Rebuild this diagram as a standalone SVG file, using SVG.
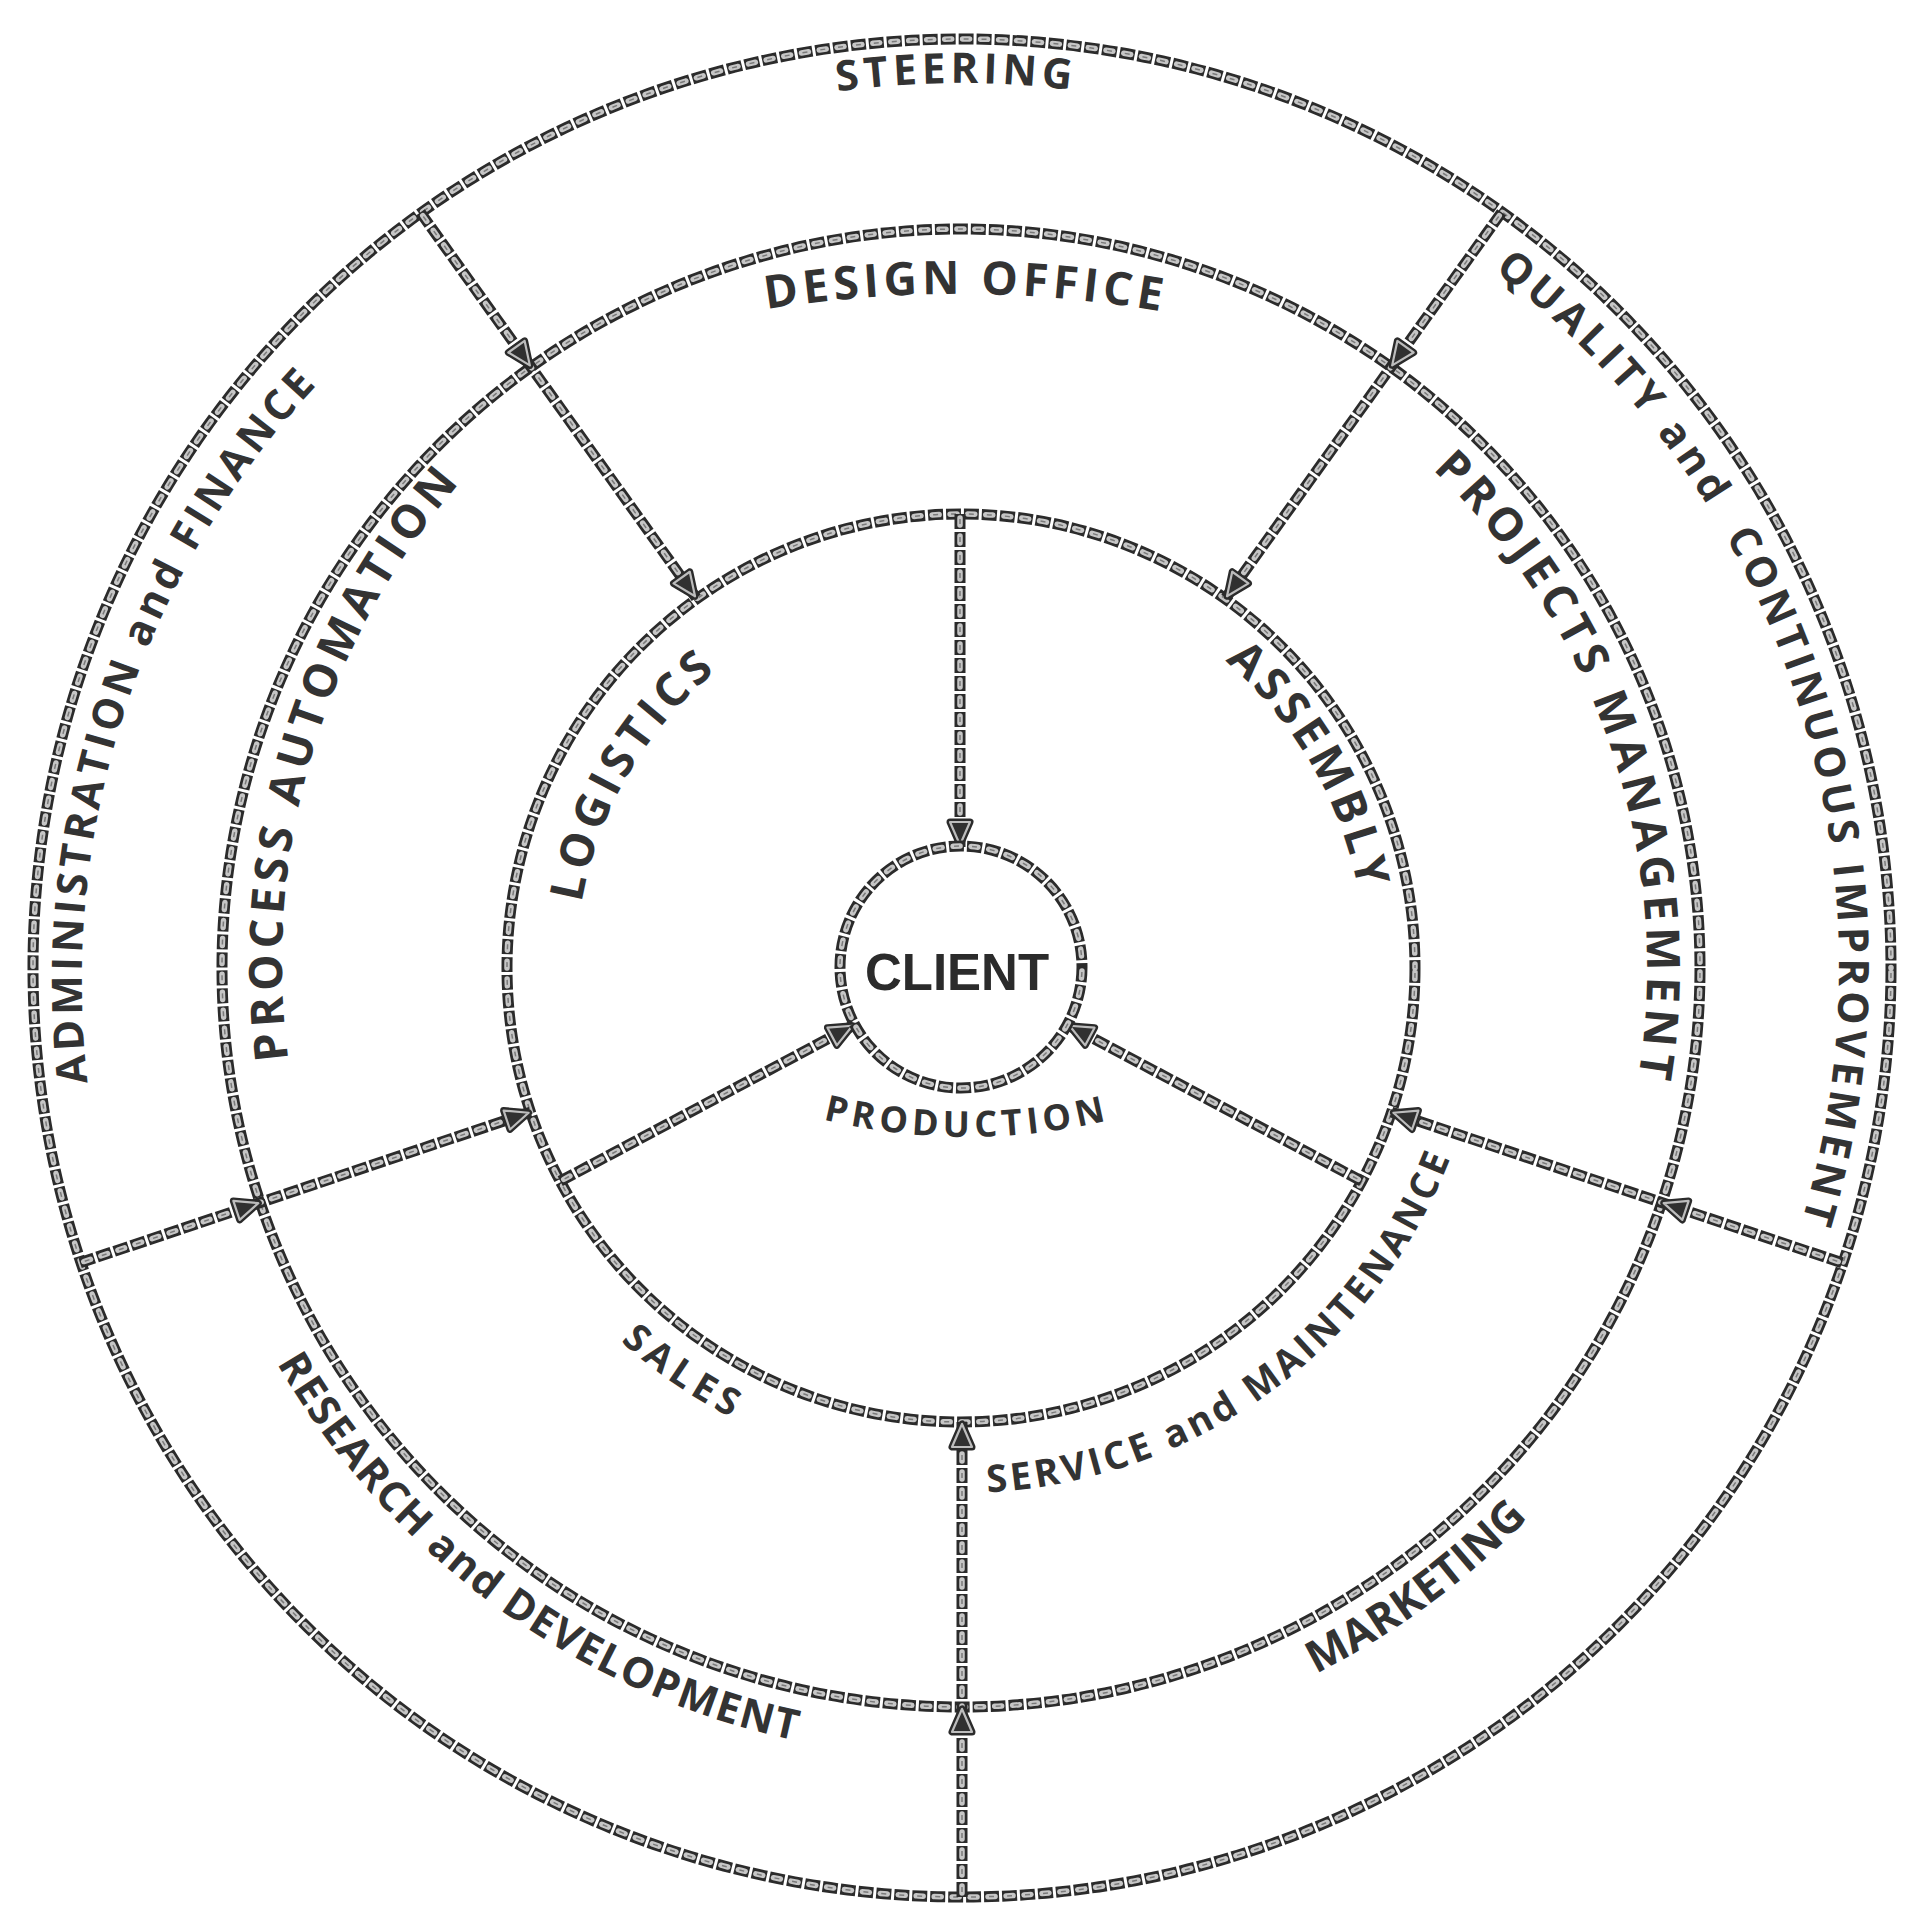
<svg xmlns="http://www.w3.org/2000/svg" width="1914" height="1920" viewBox="0 0 1914 1920">
<style>
.ch1{fill:none;stroke:#2b2b2b;stroke-width:11;stroke-dasharray:15 3}
.ch2{fill:none;stroke:#c6c6c6;stroke-width:5.5;stroke-dasharray:7 11;stroke-dashoffset:-4;stroke-linecap:round}
.ch3{fill:none;stroke:#7a7a7a;stroke-width:1.5;stroke-dasharray:5 13;stroke-dashoffset:-5}
.arr{fill:none;stroke:none;marker-end:url(#ah)}
.lbl{font-family:"Open Sans","Liberation Sans",sans-serif;font-weight:700;fill:#333}
.big{font-size:46px;letter-spacing:4px}
.out{font-size:42px;letter-spacing:3.5px}
.sm{font-size:38px;letter-spacing:2px}
</style>
<defs>
<marker id="ah" markerUnits="userSpaceOnUse" viewBox="-32 -16 36 32" refX="0" refY="0" markerWidth="36" markerHeight="32" orient="auto" overflow="visible">
<path d="M-2,0 L-25,-10 L-25,10 Z" fill="#2b2b2b" stroke="#2b2b2b" stroke-width="7" stroke-linejoin="round"/>
<path d="M-2,0 L-25,-10 L-25,10 Z" fill="#303030" stroke="#bdbdbd" stroke-width="2.2" stroke-linejoin="round"/>
</marker>
<circle id="cOuter" cx="962" cy="968" r="929"/>
<circle id="cMid" cx="961" cy="968" r="739"/>
<circle id="cInner" cx="961" cy="968" r="454"/>
<circle id="cClient" cx="961" cy="967" r="121"/>
<path id="l1" d="M420.4,212.4 L696.2,597.9"/>
<path id="l2" d="M1501.6,212.4 L1225.8,597.9"/>
<path id="l3" d="M960,514 L960,847"/>
<path id="l4" d="M962,1897 L962,1422"/>
<path id="l5" d="M80,1262.8 L530.5,1112.1"/>
<path id="l6" d="M1842,1262.8 L1391.5,1112.1"/>
<path id="l7" d="M560.2,1181.2 L854.2,1024.8"/>
<path id="l8" d="M1361.8,1181.2 L1067.8,1024.8"/>
<path id="cw885" d="M89.44,814.32 A885,885 0 0 1 1832.56,814.32"/>
<path id="cwAdmin" d="M95.14,829.66 A875,875 0 0 1 1818.56,829.66"/>
<path id="cw878" d="M96.34,815.54 A878,878 0 0 1 1825.66,815.54"/>
<path id="ccw790" d="M183,1105.18 A790,790 0 0 0 1739,1105.18"/>
<path id="arcDesign" d="M189.7,574.7 A1200,1200 0 0 1 1732.3,574.7"/>
<path id="cw686" d="M285.42,848.88 A686,686 0 0 1 1636.58,848.88"/>
<path id="arcProcess" d="M696,1623.2 A735,735 0 0 1 1092.6,230.9"/>
<path id="ccw525" d="M443.98,1059.17 A525,525 0 0 0 1478.02,1059.17"/>
<path id="ccw505" d="M463.67,1055.69 A505,505 0 0 0 1458.33,1055.69"/>
<path id="cw385" d="M581.85,901.14 A385,385 0 0 1 1340.15,901.14"/>
<path id="cw405" d="M562.15,897.67 A405,405 0 0 1 1359.85,897.67"/>
<path id="arcProd" d="M447.4,837 A600,600 0 0 0 1486.6,837"/>
</defs>
<rect width="1914" height="1920" fill="#ffffff"/>

<g id="ring-outer"><use href="#cOuter" class="ch1"/><use href="#cOuter" class="ch2"/><use href="#cOuter" class="ch3"/></g>
<g id="ring-middle"><use href="#cMid" class="ch1"/><use href="#cMid" class="ch2"/><use href="#cMid" class="ch3"/></g>
<g id="ring-inner"><use href="#cInner" class="ch1"/><use href="#cInner" class="ch2"/><use href="#cInner" class="ch3"/></g>

<g id="connectors">
<use href="#l1" class="ch1"/><use href="#l1" class="ch2"/><use href="#l1" class="ch3"/>
<use href="#l2" class="ch1"/><use href="#l2" class="ch2"/><use href="#l2" class="ch3"/>
<use href="#l3" class="ch1"/><use href="#l3" class="ch2"/><use href="#l3" class="ch3"/>
<use href="#l4" class="ch1"/><use href="#l4" class="ch2"/><use href="#l4" class="ch3"/>
<use href="#l5" class="ch1"/><use href="#l5" class="ch2"/><use href="#l5" class="ch3"/>
<use href="#l6" class="ch1"/><use href="#l6" class="ch2"/><use href="#l6" class="ch3"/>
<use href="#l7" class="ch1"/><use href="#l7" class="ch2"/><use href="#l7" class="ch3"/>
<use href="#l8" class="ch1"/><use href="#l8" class="ch2"/><use href="#l8" class="ch3"/>
<path class="arr" d="M420.4,212.4 L531,367"/>
<path class="arr" d="M531,367 L696.2,597.9"/>
<path class="arr" d="M1501.6,212.4 L1391,367"/>
<path class="arr" d="M1391,367 L1225.8,597.9"/>
<path class="arr" d="M960,514 L960,847"/>
<path class="arr" d="M962,1897 L962,1707"/>
<path class="arr" d="M962,1707 L962,1422"/>
<path class="arr" d="M80,1262.8 L260.2,1202.5"/>
<path class="arr" d="M260.2,1202.5 L530.5,1112.1"/>
<path class="arr" d="M1842,1262.8 L1661.8,1202.5"/>
<path class="arr" d="M1661.8,1202.5 L1391.5,1112.1"/>
<path class="arr" d="M560.2,1181.2 L854.2,1024.8"/>
<path class="arr" d="M1361.8,1181.2 L1067.8,1024.8"/>
</g>

<g id="client"><use href="#cClient" class="ch1"/><use href="#cClient" class="ch2"/><use href="#cClient" class="ch3"/>
<text x="957" y="990" text-anchor="middle" font-family="'Liberation Sans',Arial,sans-serif" font-weight="700" font-size="51" fill="#2b2b2b">CLIENT</text></g>

<g id="label-steering" transform="rotate(-0.3 961 968)"><text class="lbl out" text-anchor="middle" style="letter-spacing:4.8px"><textPath href="#cw885" startOffset="50%">STEERING</textPath></text></g>
<g id="label-quality" transform="rotate(72.2 961 968)"><text class="lbl out" text-anchor="middle" xml:space="preserve" style="white-space:pre;letter-spacing:4.6px"><textPath href="#cw878" startOffset="50%">QUALITY and  CONTINUOUS IMPROVEMENT</textPath></text></g>
<g id="label-admin" transform="rotate(-71.7 956.85 981.6)"><text class="lbl out" text-anchor="middle" style="letter-spacing:4px"><textPath href="#cwAdmin" startOffset="50%">ADMINISTRATION and FINANCE</textPath></text></g>
<g id="label-research" transform="rotate(36 961 968)"><text class="lbl out" text-anchor="middle" style="letter-spacing:1.5px"><textPath href="#ccw790" startOffset="50%">RESEARCH and DEVELOPMENT</textPath></text></g>
<g id="label-marketing" transform="rotate(-36.3 961 968)"><text class="lbl out" text-anchor="middle" style="font-size:44px;letter-spacing:0.3px"><textPath href="#ccw790" startOffset="50%">MARKETING</textPath></text></g>
<g id="label-design" transform="rotate(0.4 961 968)"><text class="lbl big" text-anchor="middle" style="letter-spacing:4.6px"><textPath href="#arcDesign" startOffset="50%">DESIGN OFFICE</textPath></text></g>
<g id="label-projects" transform="rotate(71.5 961 968)"><text class="lbl big" text-anchor="middle" style="letter-spacing:5.6px"><textPath href="#cw686" startOffset="50%">PROJECTS MANAGEMENT</textPath></text></g>
<g id="label-process" transform="rotate(0.8 1017 962)"><text class="lbl big" text-anchor="middle" style="letter-spacing:5px"><textPath href="#arcProcess" startOffset="50%">PROCESS AUTOMATION</textPath></text></g>
<g id="label-service" transform="rotate(-36 961 968)"><text class="lbl sm" text-anchor="middle" style="letter-spacing:3.6px"><textPath href="#ccw525" startOffset="50%">SERVICE and MAINTENANCE</textPath></text></g>
<g id="label-sales" transform="rotate(34.4 961 968)"><text class="lbl sm" text-anchor="middle" style="letter-spacing:6px"><textPath href="#ccw505" startOffset="50%">SALES</textPath></text></g>
<g id="label-logistics" transform="rotate(-59.6 961 968)"><text class="lbl big" text-anchor="middle" style="letter-spacing:5px"><textPath href="#cw385" startOffset="50%">LOGISTICS</textPath></text></g>
<g id="label-assembly" transform="rotate(60 961 968)"><text class="lbl big" text-anchor="middle" style="letter-spacing:4.5px"><textPath href="#cw405" startOffset="50%">ASSEMBLY</textPath></text></g>
<g id="label-production"><text class="lbl" text-anchor="middle" style="font-size:36px;letter-spacing:4.8px"><textPath href="#arcProd" startOffset="50%">PRODUCTION</textPath></text></g>
</svg>
